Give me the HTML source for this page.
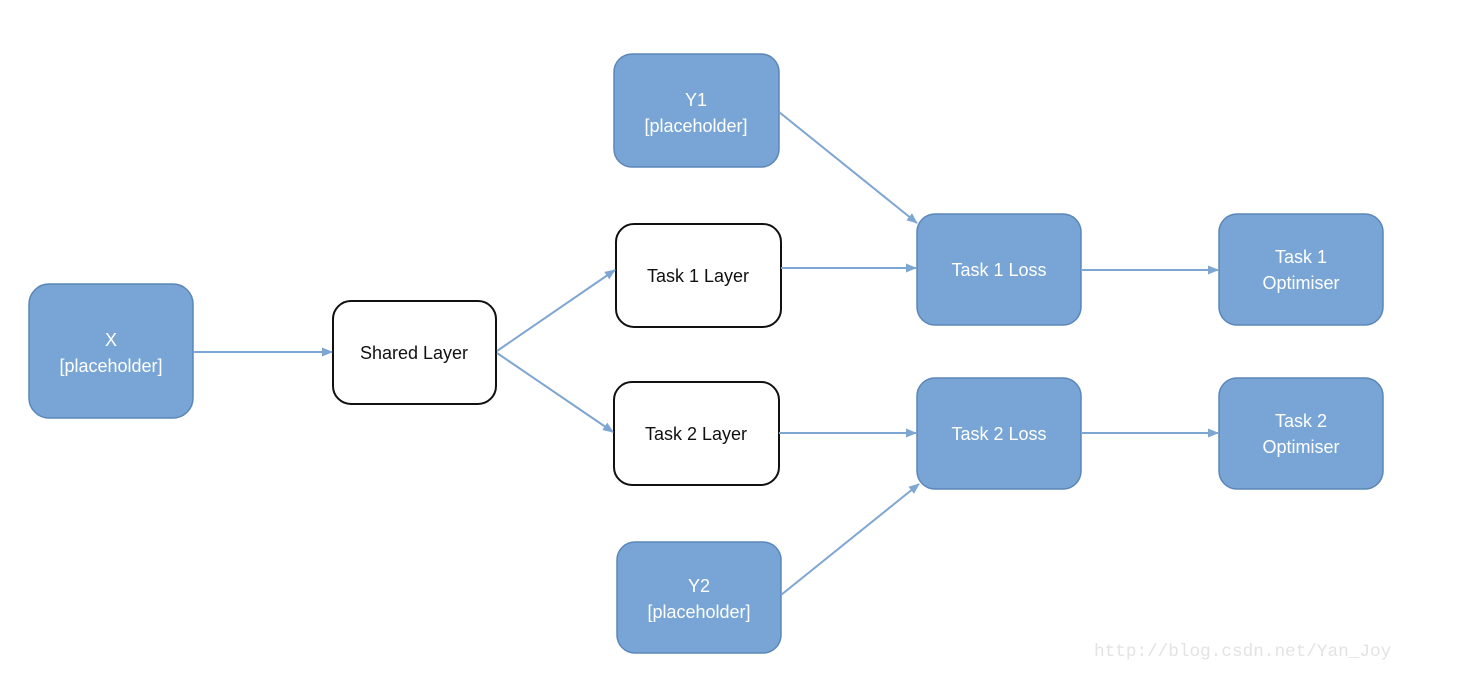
<!DOCTYPE html>
<html><head><meta charset="utf-8"><style>
html,body{margin:0;padding:0;background:#fff;}
svg{display:block;}
text{font-family:"Liberation Sans",sans-serif;font-size:18px;text-anchor:middle;}
.b{fill:#78a5d6;stroke:#5b86b8;stroke-width:1.5;}
.w{fill:#fff;stroke:#111;stroke-width:2;}
.bt{fill:#fff;}
.wt{fill:#111;}
.l{stroke:#7ea6d3;stroke-width:2;fill:none;marker-end:url(#a);}
</style></head><body>
<svg width="1474" height="694" viewBox="0 0 1474 694">
<defs><marker id="a" markerWidth="11" markerHeight="9" refX="10" refY="4.5" orient="auto" markerUnits="userSpaceOnUse"><path d="M0,0 L11,4.5 L0,9 z" fill="#7ea6d3"/></marker></defs>
<rect class="b" x="29" y="284" width="164" height="134" rx="20"/>
<text class="bt" x="111" y="346">X</text><text class="bt" x="111" y="372">[placeholder]</text>
<rect class="w" x="333" y="301" width="163" height="103" rx="18"/>
<text class="wt" x="414" y="359">Shared Layer</text>
<rect class="w" x="616" y="224" width="165" height="103" rx="18"/>
<text class="wt" x="698" y="282">Task 1 Layer</text>
<rect class="w" x="614" y="382" width="165" height="103" rx="18"/>
<text class="wt" x="696" y="440">Task 2 Layer</text>
<rect class="b" x="614" y="54" width="165" height="113" rx="18"/>
<text class="bt" x="696" y="106">Y1</text><text class="bt" x="696" y="132">[placeholder]</text>
<rect class="b" x="617" y="542" width="164" height="111" rx="18"/>
<text class="bt" x="699" y="592">Y2</text><text class="bt" x="699" y="618">[placeholder]</text>
<rect class="b" x="917" y="214" width="164" height="111" rx="18"/>
<text class="bt" x="999" y="276">Task 1 Loss</text>
<rect class="b" x="917" y="378" width="164" height="111" rx="18"/>
<text class="bt" x="999" y="440">Task 2 Loss</text>
<rect class="b" x="1219" y="214" width="164" height="111" rx="18"/>
<text class="bt" x="1301" y="263">Task 1</text><text class="bt" x="1301" y="289">Optimiser</text>
<rect class="b" x="1219" y="378" width="164" height="111" rx="18"/>
<text class="bt" x="1301" y="427">Task 2</text><text class="bt" x="1301" y="453">Optimiser</text>
<line class="l" x1="193" y1="352" x2="332" y2="352"/>
<line class="l" x1="497" y1="351" x2="615" y2="270"/>
<line class="l" x1="497" y1="353" x2="613" y2="432"/>
<line class="l" x1="781" y1="268" x2="916" y2="268"/>
<line class="l" x1="779" y1="433" x2="916" y2="433"/>
<line class="l" x1="779" y1="112" x2="917" y2="223"/>
<line class="l" x1="781" y1="595" x2="919" y2="484"/>
<line class="l" x1="1081" y1="270" x2="1218" y2="270"/>
<line class="l" x1="1081" y1="433" x2="1218" y2="433"/>
<text x="1094" y="656" style="font-family:'Liberation Mono',monospace;font-size:17.7px;fill:#e3e3e3;text-anchor:start;">http://blog.csdn.net/Yan_Joy</text>
</svg>
</body></html>
